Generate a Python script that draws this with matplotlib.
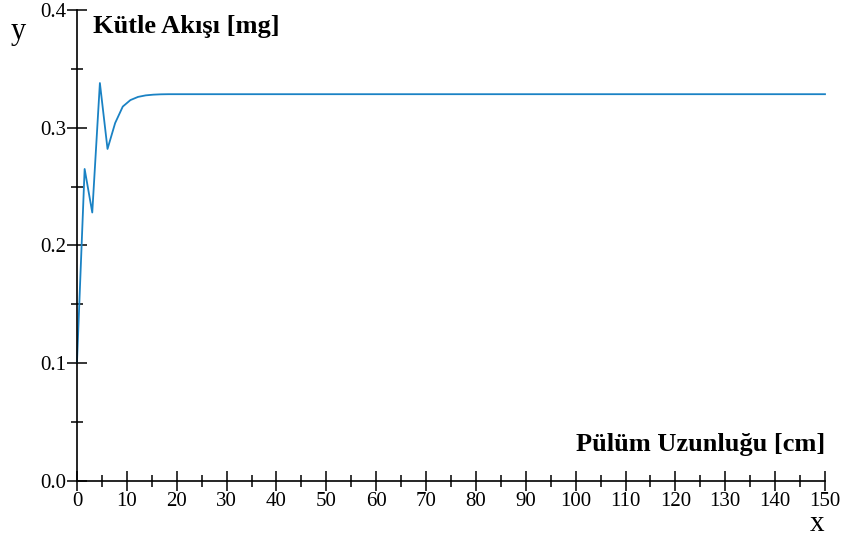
import numpy as np
import matplotlib
matplotlib.use('Agg')
import matplotlib.pyplot as plt
from matplotlib.ticker import MultipleLocator

plt.rcParams['font.family'] = ['Liberation Serif', 'DejaVu Serif']

# veri / data
uzunluk = [0, 1.53, 3.06, 4.59, 6.12, 7.65, 9.18, 10.71, 12.24, 13.78,
           15.31, 16.84, 18.37, 150]
akis = [0.101, 0.265, 0.228, 0.338, 0.282, 0.304, 0.318, 0.3235, 0.3262,
        0.3275, 0.3281, 0.3284, 0.3285, 0.3285]

fig = plt.figure(figsize=(8.47, 5.37), dpi=100)
ax = fig.add_axes([77/847, 56/537, 748/847, 471/537])

ax.plot(uzunluk, akis, color='#1a82c4', lw=1.3, clip_on=False)

ax.set_xlim(0, 150)
ax.set_ylim(0, 0.4)
ax.xaxis.set_major_locator(MultipleLocator(10))
ax.xaxis.set_minor_locator(MultipleLocator(5))
ax.yaxis.set_major_locator(MultipleLocator(0.1))
ax.yaxis.set_minor_locator(MultipleLocator(0.05))
ax.yaxis.set_major_formatter(plt.FuncFormatter(lambda v, p: f'{v:.1f}'))

for s in ['top', 'right']:
    ax.spines[s].set_visible(False)
for s in ['left', 'bottom']:
    ax.spines[s].set_linewidth(1.2)

ax.tick_params(which='major', direction='inout', length=14, width=1.1,
               labelsize=15, pad=1)
ax.tick_params(which='minor', direction='inout', length=8, width=1.1)

ax.text((93-77)/748, (481-27)/471, 'Kütle Akışı [mg]', transform=ax.transAxes,
        fontsize=19, fontweight='bold', ha='left', va='center')
ax.text(1.0, (481-445)/471, 'Pülüm Uzunluğu [cm]', transform=ax.transAxes,
        fontsize=19, fontweight='bold', ha='right', va='center')

fig.text(18/847, 1 - 32/537, 'y', fontsize=22, ha='center', va='center')
fig.text(817/847, 1 - 531/537, 'x', fontsize=21, ha='center', va='baseline')

fig.savefig('out.png', dpi=100)
